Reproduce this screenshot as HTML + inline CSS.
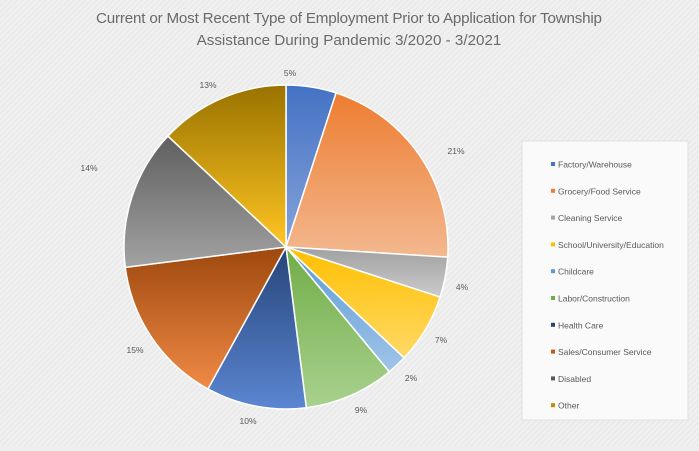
<!DOCTYPE html>
<html><head><style>
html,body{margin:0;padding:0;}
body{width:699px;height:446px;overflow:hidden;background:#eeeeee;font-family:"Liberation Sans",sans-serif;}
</style></head><body>
<svg id="s" width="699" height="446" xmlns="http://www.w3.org/2000/svg">
<defs>
<pattern id="hatch" width="4" height="4" patternUnits="userSpaceOnUse" patternTransform="rotate(45)">
<rect width="4" height="4" fill="#f0f0f0"/><rect width="1" height="4" fill="#e6e6e6"/>
</pattern>
</defs>
<rect width="699" height="446" fill="url(#hatch)"/>
<text x="349" y="23" text-anchor="middle" font-size="15.2" fill="#6a6a6a" textLength="506">Current or Most Recent Type of Employment Prior to Application for Township</text>
<text x="349" y="45" text-anchor="middle" font-size="15.2" fill="#6a6a6a">Assistance During Pandemic 3/2020 - 3/2021</text>
<rect x="522" y="141" width="166" height="279" fill="#fafafa" stroke="#e0e0e0"/>
<g id="pie"></g>
<g id="leg" font-size="8.5" fill="#595959"></g>
<g font-size="8.5" fill="#595959" text-anchor="middle">
<text x="290" y="76">5%</text><text x="456" y="154">21%</text><text x="462" y="290">4%</text>
<text x="441" y="343">7%</text><text x="411" y="381">2%</text><text x="361" y="413">9%</text>
<text x="248" y="424">10%</text><text x="135" y="353">15%</text><text x="89" y="171">14%</text>
<text x="208" y="88">13%</text>
</g>
</svg>
<script>
var data=[["Factory/Warehouse",5,"#4472c4","#86a3da","#4472c4"],["Grocery/Food Service",21,"#ed7d31","#f3b88f","#ed7d31"],["Cleaning Service",4,"#a0a0a0","#cbcbcb","#a5a5a5"],["School/University/Education",7,"#ffbf00","#ffd966","#ffc000"],["Childcare",2,"#5b9bd5","#a0c4e8","#5b9bd5"],["Labor/Construction",9,"#70ad47","#a9d18e","#70ad47"],["Health Care",10,"#264478","#5b86d2","#264478"],["Sales/Consumer Service",15,"#9e480e","#f08a45","#c55a11"],["Disabled",14,"#5f5f5f","#a2a2a2","#595959"],["Other",13,"#997300","#ffc522","#bf9000"]];
var ns="http://www.w3.org/2000/svg",s=document.getElementById("s"),defs=s.querySelector("defs"),pie=document.getElementById("pie"),leg=document.getElementById("leg");
var cx=286,cy=247,r=162,a=-Math.PI/2;
data.forEach(function(d,i){
 var g=document.createElementNS(ns,"linearGradient");g.id="g"+i;g.setAttribute("x1","0");g.setAttribute("y1","0");g.setAttribute("x2","0");g.setAttribute("y2","1");
 g.innerHTML='<stop offset="0" stop-color="'+d[2]+'"/><stop offset="1" stop-color="'+d[3]+'"/>';defs.appendChild(g);
 var b=a+d[1]/100*2*Math.PI;
 var x1=cx+r*Math.cos(a),y1=cy+r*Math.sin(a),x2=cx+r*Math.cos(b),y2=cy+r*Math.sin(b);
 var p=document.createElementNS(ns,"path");
 p.setAttribute("d","M"+cx+","+cy+"L"+x1+","+y1+"A"+r+","+r+" 0 "+(d[1]>50?1:0)+",1 "+x2+","+y2+"Z");
 p.setAttribute("fill","url(#g"+i+")");p.setAttribute("stroke","#fff");p.setAttribute("stroke-width","1.5");
 pie.appendChild(p);a=b;
 var y=165+i*26.8;
 var rc=document.createElementNS(ns,"rect");rc.setAttribute("x",551);rc.setAttribute("y",y-3);rc.setAttribute("width",4);rc.setAttribute("height",4);rc.setAttribute("fill",d[4]);leg.appendChild(rc);
 var t=document.createElementNS(ns,"text");t.setAttribute("x",558);t.setAttribute("y",y+2.5);t.textContent=d[0];leg.appendChild(t);
});
</script>
</body></html>
